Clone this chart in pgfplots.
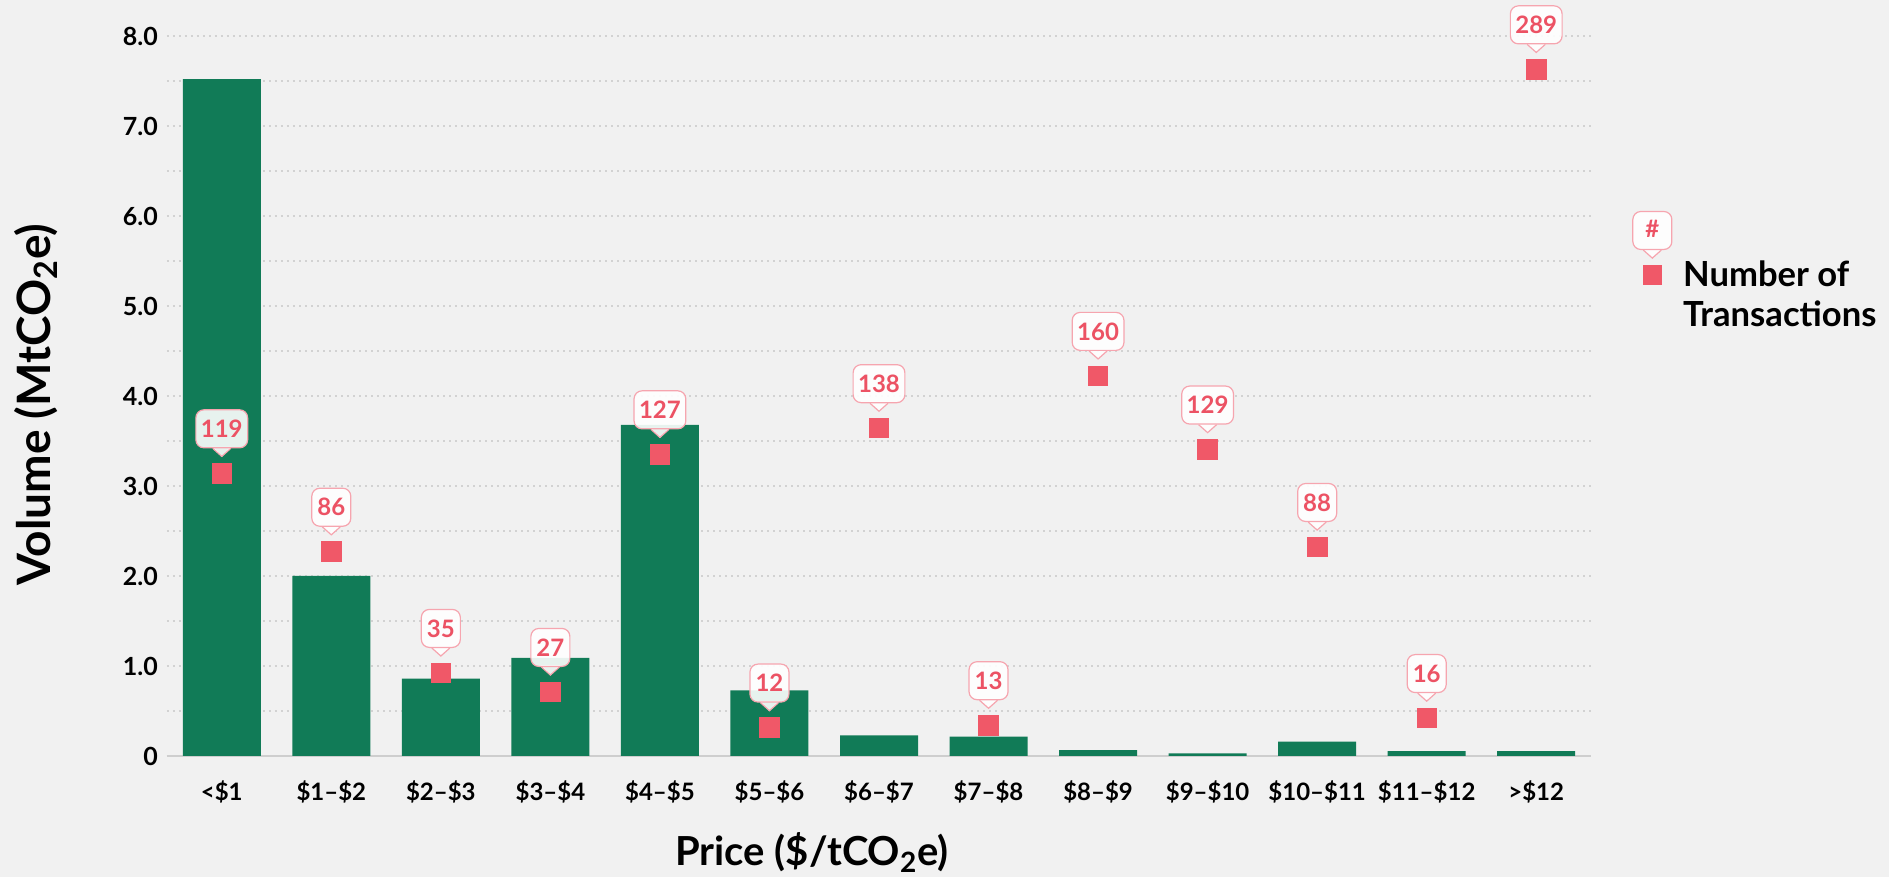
\documentclass[border=0pt]{standalone}
\usepackage{fontspec}
\setmainfont{Lato}
\usepackage{pgfplots}
\pgfplotsset{compat=1.18}
\definecolor{bg}{RGB}{241,241,241}
\definecolor{barg}{RGB}{17,123,87}
\definecolor{pinkc}{RGB}{240,88,104}
\definecolor{pinkt}{RGB}{236,82,100}
\definecolor{pinkb}{RGB}{246,165,175}
\definecolor{gridc}{RGB}{210,210,210}
\definecolor{axisc}{RGB}{206,206,206}
\tikzset{cbox/.style={rectangle, rounded corners=4pt, draw=pinkb, fill=white, fill opacity=0.9, text opacity=1,
  line width=0.6pt, text=pinkt, font=\bfseries\fontsize{12}{12}\selectfont,
  inner xsep=2.5pt, inner ysep=0pt, minimum height=19pt, minimum width=19.5pt, anchor=south,
  append after command={\pgfextra{%
    \fill[white, fill opacity=0.9, sharp corners] ([xshift=-4.5pt,yshift=0.6pt]\tikzlastnode.south) -- ([yshift=-4pt]\tikzlastnode.south) -- ([xshift=4.5pt,yshift=0.6pt]\tikzlastnode.south) -- cycle;
    \draw[pinkb, line width=0.6pt, sharp corners] ([xshift=-4.5pt]\tikzlastnode.south) -- ([yshift=-4pt]\tikzlastnode.south) -- ([xshift=4.5pt]\tikzlastnode.south);}}}}
\begin{document}
\begin{tikzpicture}
\fill[bg] (-83.5pt,-60.5pt) rectangle (861pt,378pt);
\begin{axis}[
  at={(0,0)}, anchor=south west, scale only axis, width=712pt, height=360pt,
  xmin=-0.5, xmax=12.5, ymin=0, ymax=8,
  ybar, bar width=39pt,
  xtick={0,...,12},
  xticklabels={<\$1,\$1--\$2,\$2--\$3,\$3--\$4,\$4--\$5,\$5--\$6,\$6--\$7,\$7--\$8,\$8--\$9,\$9--\$10,\$10--\$11,\$11--\$12,>\$12},
  ytick={0,1,2,3,4,5,6,7,8},
  yticklabels={0,1.0,2.0,3.0,4.0,5.0,6.0,7.0,8.0},
  minor ytick={0.5,1.5,2.5,3.5,4.5,5.5,6.5,7.5},
  ymajorgrids, yminorgrids,
  major grid style={gridc, line width=1pt, dash pattern=on 1pt off 2pt},
  minor grid style={gridc, line width=1pt, dash pattern=on 1pt off 2pt},
  axis x line*=bottom, axis y line*=left,
  x axis line style={-, draw=axisc, line width=1pt},
  y axis line style={draw=none},
  major tick length=0pt, minor tick length=0pt,
  tick style={draw=none},
  xticklabel style={font=\bfseries\fontsize{12}{14}\selectfont, anchor=base, yshift=-22.5pt},
  yticklabel style={font=\bfseries\fontsize{12.5}{14}\selectfont, anchor=east, xshift=-1pt},
  xlabel={Price (\$/tCO\textsubscript{2}e)},
  ylabel={Volume (MtCO\textsubscript{2}e)},
  xlabel style={at={(axis description cs:0.453,-0.134)}, anchor=center, font=\bfseries\fontsize{20}{24}\selectfont},
  ylabel style={at={(axis description cs:-0.092,0.488)}, anchor=center, font=\bfseries\fontsize{23}{27}\selectfont},
  clip=false,
]
\addplot[fill=barg, draw=none] coordinates {
(0,7.52) (1,2.00) (2,0.86) (3,1.09) (4,3.68) (5,0.73) (6,0.23) (7,0.215) (8,0.065) (9,0.03) (10,0.16) (11,0.055) (12,0.055)};
\end{axis}
\begin{axis}[
  at={(0,0)}, anchor=south west, scale only axis, width=712pt, height=360pt,
  xmin=-0.5, xmax=12.5, ymin=0, ymax=303,
  hide axis, clip=false,
  nodes near coords, nodes near coords style={cbox, anchor=south, yshift=12.4pt},
  /pgf/number format/assume math mode=true,
  legend cell align=left,
  legend style={at={(axis description cs:1.0359,0.646)}, anchor=west, draw=none, fill=none,
    inner sep=0pt, column sep=8.5pt, font=\bfseries\fontsize{17.3}{20}\selectfont,
    cells={anchor=west, align=left}},
  legend image code/.code={\path[draw=none, fill=none] (0pt,-15pt) -- (0pt,15pt);
    \fill[pinkc, draw=none] (0pt,5.1pt) rectangle (9.8pt,14.9pt);
    \node[cbox, overlay] at (4.9pt,22.4pt) {\#};},
]
\addplot[only marks, mark=square*, mark size=4.9pt, color=pinkc] coordinates {
(0,119) (1,86) (2,35) (3,27) (4,127) (5,12) (6,138) (7,13) (8,160) (9,129) (10,88) (11,16) (12,289)};
\addlegendentry{Number of\\Transactions}
\end{axis}
\pgfresetboundingbox
\useasboundingbox (-83.5pt,-60.5pt) rectangle (861pt,378pt);
\end{tikzpicture}
\end{document}
